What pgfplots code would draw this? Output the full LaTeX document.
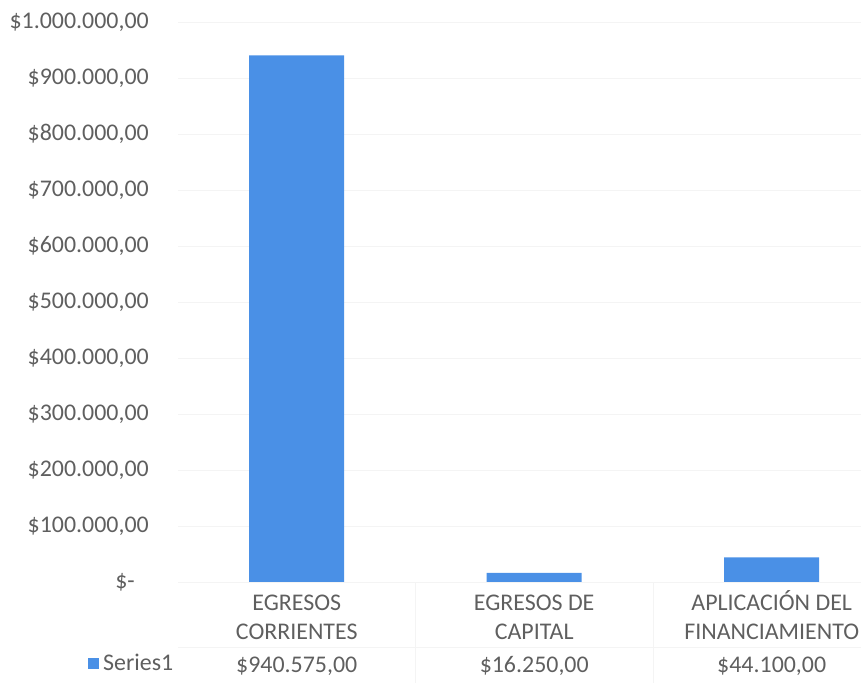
\documentclass[border=0pt]{standalone}
\usepackage{fontspec}
\setmainfont{Carlito}
\usepackage{pgfplots}
\pgfplotsset{compat=1.18}
\definecolor{txt}{HTML}{5F5F5F}
\definecolor{barblue}{HTML}{4A90E6}
\definecolor{gridc}{HTML}{F4F4F4}
\begin{document}
\begin{tikzpicture}
\useasboundingbox (0,0) rectangle (861bp,683bp);
\begin{axis}[
  at={(178bp,101bp)}, anchor=south west,
  scale only axis, width=683bp, height=560bp,
  xmin=-0.5, xmax=2.376, ymin=0, ymax=1000000,
  scaled y ticks=false,
  clip=false,
  ybar, bar width=95bp,
  xtick={0,1,2},
  xticklabels={{\strut EGRESOS\\CORRIENTES\\[4bp]\$940.575,00},{\strut EGRESOS DE\\CAPITAL\\[4bp]\$16.250,00},{\strut APLICACIÓN DEL\\FINANCIAMIENTO\\[4bp]\$44.100,00}},
  ytick={0,100000,200000,300000,400000,500000,600000,700000,800000,900000,1000000},
  yticklabels={{\$-\kern14bp},{\$100.000,00},{\$200.000,00},{\$300.000,00},{\$400.000,00},{\$500.000,00},{\$600.000,00},{\$700.000,00},{\$800.000,00},{\$900.000,00},{\$1.000.000,00}},
  ymajorgrids, major grid style={gridc, line width=0.8bp},
  axis line style={draw=none},
  tick style={draw=none},
  ticklabel style={font=\fontsize{24}{29}\selectfont, text=txt},
  yticklabel style={anchor=east, inner sep=0pt, xshift=-29bp},
  xticklabel style={align=center, anchor=north, inner sep=0pt, yshift=-4bp},
  legend style={at={(-0.1317,-0.145)}, anchor=west, draw=none, fill=none, inner sep=0pt,
    font=\fontsize{24}{29}\selectfont, text=txt, nodes={inner xsep=4bp}},
  legend image code/.code={\fill[barblue] (0bp,-5.5bp) rectangle (11bp,5.5bp);},
]
\addplot[fill=barblue, draw=none] coordinates {(0,940575) (1,16250) (2,44100)};
\legend{Series1}
\draw[gridc, line width=0.8bp] (axis cs:-0.5,0) -- (axis cs:2.376,0);
\draw[gridc, line width=0.8bp] (axis cs:-0.5,-116000) -- (axis cs:2.376,-116000);
\draw[gridc, line width=0.8bp] (axis cs:0.5,0) -- (axis cs:0.5,-181000);
\draw[gridc, line width=0.8bp] (axis cs:1.5,0) -- (axis cs:1.5,-181000);
\end{axis}
\end{tikzpicture}
\end{document}
